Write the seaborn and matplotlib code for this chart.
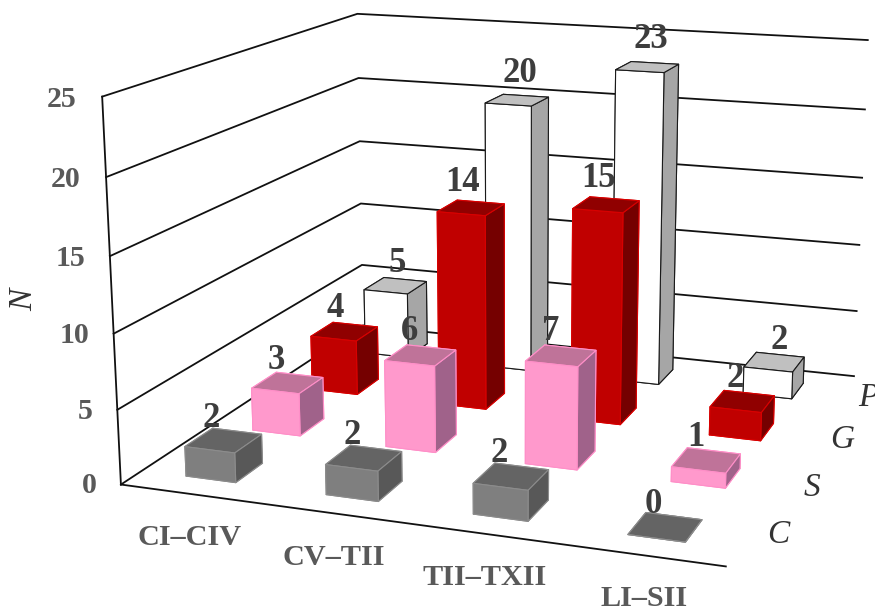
import numpy as np
import matplotlib
matplotlib.use('Agg')
import matplotlib.pyplot as plt
from mpl_toolkits.mplot3d import proj3d
import seaborn as sns

# Specimen counts per vertebral region (columns) and group (rows, front to back)
regions = ['CI–CIV', 'CV–TII', 'TII–TXII', 'LI–SII']
groups = ['C', 'S', 'G', 'P']
counts_c = [2, 2, 2, 0]
counts_s = [3, 6, 7, 1]
counts_g = [4, 14, 15, 2]
counts_p = [5, 20, 23, 2]
z_ticks = [0, 5, 10, 15, 20, 25]

# Face colours of each group's bars: front, top, right side, edge
palette = {
    'C': ('#7f7f7f', '#646464', '#585858', '#8c8c8c'),
    'S': ('#ff99cc', '#bf7399', '#a0628a', '#ff8fc8'),
    'G': ('#c00000', '#900000', '#750000', '#d80000'),
    'P': ('#ffffff', '#c0c0c0', '#a6a6a6', '#1a1a1a'),
}

sns.set_theme(style='white')
plt.rcParams['font.family'] = ['Liberation Serif', 'DejaVu Serif']

fig = plt.figure(figsize=(8.75, 6.09), dpi=100)
ax = fig.add_axes([67.35 / 875, -88.6 / 609, 871.5 / 875, 871.5 / 609],
                  projection='3d', computed_zorder=False)
ax.set_xlim(0, 4)
ax.set_ylim(0, 4)
ax.set_zlim(0, 25)
ax.view_init(elev=14.2878, azim=-70.2697)
ax.set_proj_type('persp', focal_length=0.4532)
ax.set_box_aspect((1.0327, 1, 0.6534))
ax.set_axis_off()


def label_at(x, y, z, text, **style):
    """Write a flat label at a point of the 3D box."""
    u, v, _ = proj3d.proj_transform(x, y, z, ax.get_proj())
    ax.annotate(text, (u, v), xycoords='data', annotation_clip=False, zorder=100, **style)


# Walls: level lines along the left and back walls, then the front edges
wall = dict(color='#111111', lw=1.3, zorder=1, solid_capstyle='projecting')
for level in z_ticks:
    ax.plot([0, 0, 4], [0, 4, 4], [level, level, level], **wall)
ax.plot([0, 0], [0, 0], [0, 25], **wall)
ax.plot([0, 4], [0, 0], [0, 0], **wall)

series = {'C': counts_c, 'S': counts_s, 'G': counts_g, 'P': counts_p}
bar_dx, bar_dy = 0.36, 0.40
row_shift = {'C': -0.01, 'S': 0.0, 'G': 0.02, 'P': 0.11}
row_lift = {'C': -0.15, 'S': 0.0, 'G': 0.1, 'P': 0.2}
ink = '#3d3d3d'
for row, name in reversed(list(enumerate(groups))):
    front, top, side, edge = palette[name]
    faces = [top, top, front, front, side, side]
    base = 10 + 10 * (len(groups) - row)
    for col, value in enumerate(series[name]):
        ax.bar3d(col + 0.32, row + 0.29, 0, bar_dx, bar_dy, value, color=faces,
                 edgecolor=edge, linewidth=0.8, shade=False, zorder=base + col)
        label_at(col + 0.32 + row_shift[name] + 0.02 * col, row + 0.69,
                 value * 1.03 + 0.18 + row_lift[name], str(value),
                 fontsize=25, fontweight='bold', color=ink, ha='center', va='baseline')

grey = '#595959'
for col, label in enumerate(regions):
    label_at(col + 0.535, -0.1, -2.55 + 0.09 * col, label, fontsize=21.8, fontweight='bold',
             color=grey, ha='center', va='center')
for row, name in enumerate(groups):
    label_at(4.2, row + 0.5, 0.4 if name == 'C' else 0.0, name, fontsize=24,
             fontstyle='italic', color='#333333', ha='center', va='center')
for level in z_ticks:
    label_at(-0.18, 0, level - 0.3, str(level), fontsize=21.5, fontweight='bold',
             color=grey, ha='right', va='center')

fig.text(24 / 875, 1 - 300 / 609, 'N', fontsize=24, fontstyle='italic', rotation=90,
         color='#333333', ha='center', va='center')

fig.savefig('out.png', dpi=100)
